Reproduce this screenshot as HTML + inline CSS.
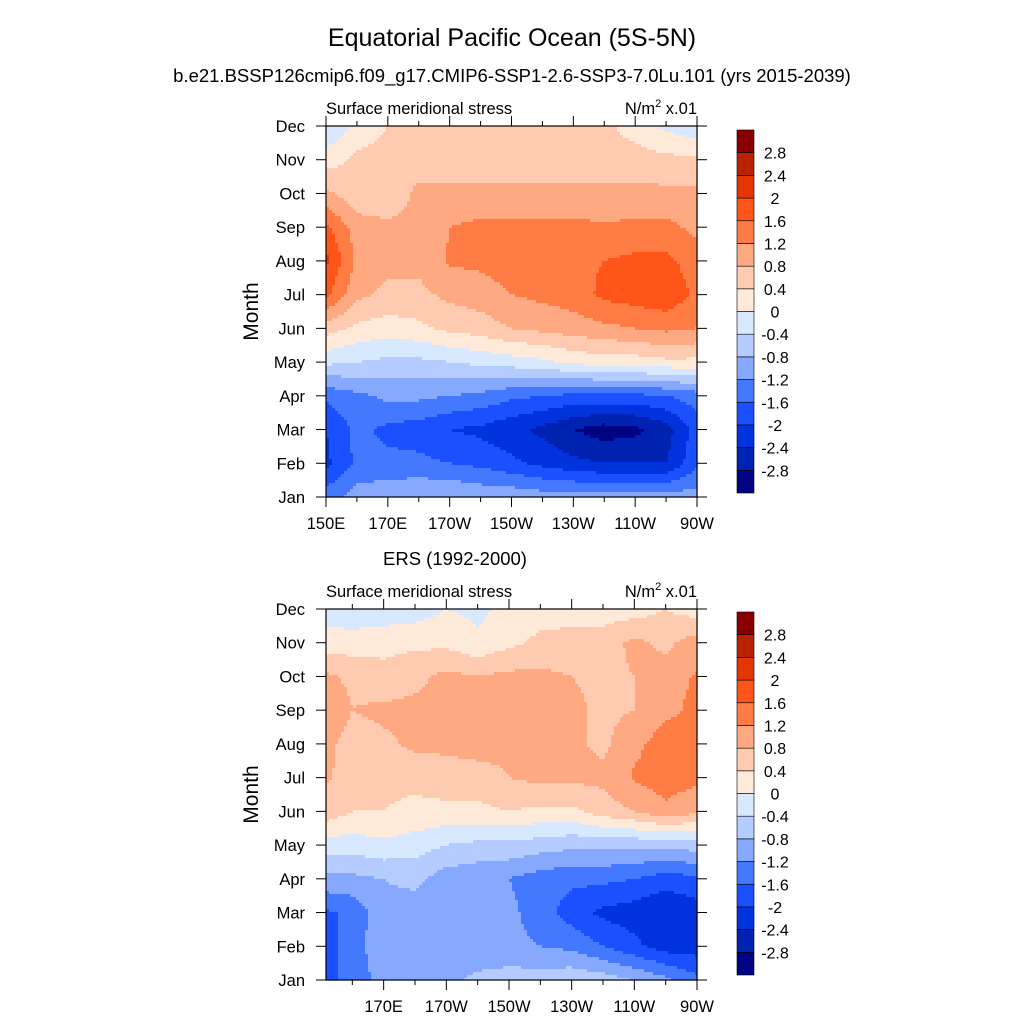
<!DOCTYPE html>
<html><head><meta charset="utf-8"><style>
html,body{margin:0;padding:0;background:#fff;}
svg{display:block;font-family:"Liberation Sans",sans-serif;}
</style></head><body>
<svg id="chart" width="1024" height="1024" viewBox="0 0 1024 1024">
<text x="512" y="46" font-size="25" text-anchor="middle">Equatorial Pacific Ocean (5S-5N)</text>
<text x="512" y="82" font-size="18.5" text-anchor="middle">b.e21.BSSP126cmip6.f09_g17.CMIP6-SSP1-2.6-SSP3-7.0Lu.101 (yrs 2015-2039)</text>
<text x="455" y="565" font-size="18.5" text-anchor="middle">ERS (1992-2000)</text>
<g id="p1"></g>
<g id="p2"></g>
</svg>
<script>
const months = ["Jan","Feb","Mar","Apr","May","Jun","Jul","Aug","Sep","Oct","Nov","Dec"];
const lons = [150,160,170,180,190,200,210,220,230,240,250,260,270];
const levels = [-2.8,-2.4,-2,-1.6,-1.2,-0.8,-0.4,0,0.4,0.8,1.2,1.6,2,2.4,2.8];
const levelLabels = ["-2.8","-2.4","-2","-1.6","-1.2","-0.8","-0.4","0","0.4","0.8","1.2","1.6","2","2.4","2.8"];
const colors = ["#000482","#0022b0","#0033dd","#1a50ff","#4478ff","#86a8ff","#b4ccff","#d8e8ff","#ffead9","#ffcbb0","#ffa983","#ff7c45","#ff5519","#e53500","#b82200","#8a0000"];
const modelField = [
 [-1.4,-1.0,-0.9,-0.8,-0.8,-0.9,-0.9,-1.0,-1.0,-1.0,-1.0,-1.0,-1.0],
 [-2.1,-1.5,-1.5,-1.5,-1.6,-1.7,-1.9,-2.1,-2.3,-2.4,-2.4,-2.4,-1.7],
 [-2.0,-1.5,-1.7,-1.8,-2.0,-2.1,-2.3,-2.5,-2.8,-3.0,-2.9,-2.6,-1.8],
 [-1.5,-1.3,-1.1,-1.1,-1.2,-1.3,-1.5,-1.6,-1.7,-1.7,-1.7,-1.6,-1.4],
 [-0.3,-0.4,-0.5,-0.5,-0.4,-0.3,-0.2,-0.1,0.1,0.2,0.2,0.3,0.3],
 [0.6,0.3,0.2,0.3,0.5,0.6,0.8,0.9,1.0,1.1,1.2,1.3,1.2],
 [1.7,0.9,0.7,0.7,0.9,1.0,1.2,1.3,1.4,1.7,1.8,1.9,1.5],
 [2.1,1.1,0.9,0.9,1.25,1.3,1.4,1.6,1.5,1.6,1.7,1.7,1.4],
 [1.7,1.0,0.9,0.9,1.2,1.3,1.3,1.3,1.3,1.25,1.3,1.3,1.1],
 [0.9,0.5,0.5,0.9,0.9,0.9,0.9,0.9,0.9,0.9,0.9,0.9,0.9],
 [0.2,0.5,0.6,0.6,0.6,0.6,0.6,0.6,0.6,0.6,0.6,0.5,0.5],
 [-0.4,0.1,0.4,0.4,0.4,0.5,0.6,0.7,0.6,0.5,0.2,-0.1,-0.3]
];
const obsField = [
 [-1.7,-1.5,-1.0,-0.8,-0.9,-0.7,-0.6,-0.6,-0.5,-0.6,-0.8,-1.1,-1.5],
 [-1.8,-1.4,-0.9,-1.1,-1.1,-1.1,-1.1,-1.2,-1.3,-1.6,-1.9,-2.2,-2.2],
 [-1.7,-1.5,-0.9,-1.0,-1.0,-1.0,-1.1,-1.4,-1.8,-2.1,-2.2,-2.4,-2.2],
 [-0.9,-0.9,-0.8,-0.7,-1.0,-1.1,-1.2,-1.4,-1.5,-1.5,-1.6,-1.8,-1.7],
 [-0.2,-0.2,-0.1,-0.2,-0.4,-0.5,-0.5,-0.6,-0.7,-0.7,-0.7,-0.7,-0.6],
 [0.7,0.4,0.4,0.3,0.3,0.3,0.4,0.3,0.3,0.6,0.8,1.1,0.9],
 [0.9,0.6,0.5,0.5,0.6,0.6,0.8,0.9,0.9,0.9,1.25,1.4,1.3],
 [1.0,0.6,0.7,0.9,0.9,1.0,0.9,0.9,0.9,0.7,1.1,1.4,1.3],
 [1.3,0.8,0.9,0.9,0.9,0.9,0.9,0.9,0.9,0.7,0.8,1.1,1.3],
 [0.9,0.7,0.5,0.7,0.9,0.8,0.9,0.9,0.8,0.7,0.8,1.0,1.25],
 [0.2,0.2,0.3,0.3,0.3,0.1,0.3,0.5,0.5,0.6,0.9,0.7,1.0],
 [-0.2,-0.3,-0.3,-0.2,0.0,-0.1,0.1,0.2,0.3,0.2,0.2,0.4,0.2]
];
const topTicks = [150,170,190,210,230,250,270];
const topTickLabels = ["150E","170E","170W","150W","130W","110W","90W"];
const botTicks = [170,190,210,230,250,270];
const botTickLabels = ["170E","170W","150W","130W","110W","90W"];

const NS="http://www.w3.org/2000/svg";
function mk(tag,attrs,parent){const e=document.createElementNS(NS,tag);for(const k in attrs)e.setAttribute(k,attrs[k]);parent.appendChild(e);return e;}
function colorOf(v){let i=0;while(i<levels.length&&v>=levels[i])i++;return colors[i];}
function sample(field,lon,m){
  let fx=(lon-lons[0])/10; fx=Math.max(0,Math.min(lons.length-1,fx));
  let fy=Math.max(0,Math.min(11,m));
  const i0=Math.min(Math.floor(fx),lons.length-2), j0=Math.min(Math.floor(fy),10);
  const tx=fx-i0, ty=fy-j0;
  const a=field[j0][i0],b=field[j0][i0+1],c=field[j0+1][i0],d=field[j0+1][i0+1];
  return a*(1-tx)*(1-ty)+b*tx*(1-ty)+c*(1-tx)*ty+d*tx*ty;
}
function panel(g,field,top,lonMin,ticks,tickLabels,cbTop){
  const L=326,R=697,T=top,B=top+371;
  const xS=lon=>L+(lon-lonMin)/(270-lonMin)*(R-L);
  const step=3;
  const cells=mk('g',{},g);
  
  
  for(let y=T;y<B;y+=step){
    const h=Math.min(step,B-y);
    const m=(B-(y+h/2))/(B-T)*11;
    let runStart=L,runCol=null;
    const flush=(xe)=>{
      const r=mk('rect',{x:runStart,y:y,width:xe-runStart+0.6,height:h+0.6,fill:runCol},cells);
      
      
    };
    for(let x=L;x<R;x+=step){
      const w=Math.min(step,R-x);
      const lon=lonMin+(x+w/2-L)/(R-L)*(270-lonMin);
      const col=colorOf(sample(field,lon,m));
      if(col!==runCol){
        if(runCol!==null)flush(x);
        runStart=x;runCol=col;
      }
    }
    if(runCol!==null)flush(R);
  }
  const fr=mk('rect',{x:L,y:T,width:R-L,height:B-T,fill:'none',stroke:'#000','stroke-width':1.2},g);
  
  
  months.forEach((mn,i)=>{
    const y=B-i/11*(B-T);
    mk('line',{x1:L-10,x2:L,y1:y,y2:y,stroke:'#000','stroke-width':1},g);
    mk('line',{x1:R,x2:R+10,y1:y,y2:y,stroke:'#000','stroke-width':1},g);
    const t=mk('text',{x:305,y:y+6,'font-size':16.5,'text-anchor':'end'},g);t.textContent=mn;
    
    
  });
  for(let lon=150;lon<=270;lon+=10){
    if(lon<lonMin-0.5)continue;
    const x=xS(lon);const major=(lon-150)%20===0;const len=major?10:5;
    mk('line',{x1:x,x2:x,y1:T-len,y2:T,stroke:'#000','stroke-width':1},g);
    mk('line',{x1:x,x2:x,y1:B,y2:B+len,stroke:'#000','stroke-width':1},g);
  }
  ticks.forEach((lon,i)=>{
    const t=mk('text',{x:xS(lon),y:B+32,'font-size':16.5,'text-anchor':'middle'},g);t.textContent=tickLabels[i];
    
    
  });
  const yt=mk('text',{x:0,y:0,'font-size':21,'text-anchor':'middle',transform:`translate(258,${(T+B)/2}) rotate(-90)`},g);yt.textContent='Month';
  
  
  const lt=mk('text',{x:L,y:T-12,'font-size':16.5},g);lt.textContent='Surface meridional stress';
  
  
  const rt=mk('text',{x:R,y:T-12,'font-size':16.5,'text-anchor':'end'},g);
  rt.innerHTML='N/m<tspan dy="-7" font-size="11">2</tspan><tspan dy="7"> x.01</tspan>';
  
  
  const cb=mk('g',{},g);
  
  
  const cx=737,cw=17,ch=363,bh=ch/colors.length;
  colors.forEach((c,i)=>{
    const r=mk('rect',{x:cx,y:cbTop+ch-(i+1)*bh,width:cw,height:bh,fill:c,stroke:'#000','stroke-width':0.6},cb);
    
    
  });
  levelLabels.forEach((lab,i)=>{
    const y=cbTop+ch-(i+1)*bh;
    const t=mk('text',{x:775,y:y+6,'font-size':16,'text-anchor':'middle'},cb);t.textContent=lab;
    
    
  });
}
panel(document.getElementById('p1'),modelField,126,150,topTicks,topTickLabels,130);
panel(document.getElementById('p2'),obsField,609,151.6,botTicks,botTickLabels,612);
</script>
</body></html>
